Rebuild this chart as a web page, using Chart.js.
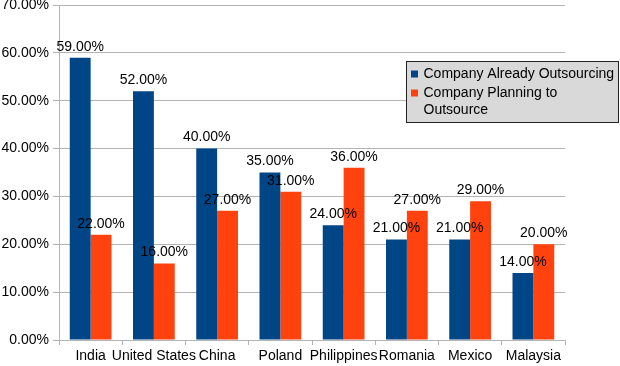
<!DOCTYPE html>
<html>
<head>
<meta charset="utf-8">
<script src="https://cdn.jsdelivr.net/npm/chart.js@4/dist/chart.umd.min.js"></script>
<style>
html,body{margin:0;padding:0;background:#fff;}
#wrap{width:620px;height:366px;}
</style>
</head>
<body>
<div id="wrap"><canvas id="c" width="620" height="366"></canvas></div>
<script>
const categories = ["India","United States","China","Poland","Philippines","Romania","Mexico","Malaysia"];
const alreadyOutsourcing = [59,52,40,35,24,21,21,14];
const planningToOutsource = [22,16,27,31,36,27,29,20];
const yTicks = [0,10,20,30,40,50,60,70];
const seriesNames = ["Company Already Outsourcing","Company Planning to Outsource"];
const legendLines = [["Company Already Outsourcing"],["Company Planning to","Outsource"]];

const FONT = "'Liberation Sans', Arial, sans-serif";
const colors = ["#004586","#ff420e"];

const valueLabels = {
  id:'valueLabels',
  afterDatasetsDraw(chart){
    const ctx = chart.ctx;
    ctx.save();
    ctx.font = "14px " + FONT;
    ctx.fillStyle = "#000";
    ctx.textAlign = "center";
    ctx.textBaseline = "bottom";
    chart.data.datasets.forEach((ds,i)=>{
      chart.getDatasetMeta(i).data.forEach((bar,j)=>{
        ctx.fillText(ds.data[j].toFixed(2)+"%", bar.x, bar.y-4);
      });
    });
    ctx.restore();
  }
};

const boxLegend = {
  id:'boxLegend',
  afterDraw(chart){
    const ctx = chart.ctx;
    const x=406.5, y=61.5, w=212, h=61;
    ctx.save();
    ctx.fillStyle="#d9d9d9";
    ctx.fillRect(x,y,w,h);
    ctx.strokeStyle="#222";
    ctx.lineWidth=1;
    ctx.strokeRect(x,y,w,h);
    ctx.font="14px "+FONT;
    ctx.textAlign="left";
    ctx.textBaseline="middle";
    let ly = y+13;
    legendLines.forEach((lines,i)=>{
      ctx.fillStyle=colors[i];
      ctx.fillRect(x+4.5, ly-4, 7, 7);
      ctx.fillStyle="#000";
      lines.forEach((t,k)=>{
        ctx.fillText(t, x+17, ly + k*17);
      });
      ly += 19;
    });
    ctx.restore();
  }
};

new Chart(document.getElementById('c'),{
  type:'bar',
  data:{
    labels:categories,
    datasets:[
      {label:seriesNames[0],data:alreadyOutsourcing,backgroundColor:colors[0],borderWidth:0,categoryPercentage:0.66,barPercentage:1},
      {label:seriesNames[1],data:planningToOutsource,backgroundColor:colors[1],borderWidth:0,categoryPercentage:0.66,barPercentage:1}
    ]
  },
  options:{
    responsive:false,
    animation:false,
    layout:{padding:{top:5,right:55,left:0,bottom:0}},
    plugins:{legend:{display:false},tooltip:{enabled:false}},
    scales:{
      x:{
        grid:{display:true,drawOnChartArea:false,drawTicks:true,tickLength:5,color:'#b3b3b3',offset:true},
        border:{display:true,color:'#b3b3b3'},
        ticks:{color:'#000',font:{family:FONT,size:14},padding:3,maxRotation:0,autoSkip:false},
        afterFit(s){s.height=26; s.paddingLeft=0; s.paddingRight=0;}
      },
      y:{
        min:0,max:70,
        afterBuildTicks(s){s.ticks = yTicks.map(v=>({value:v}));},
        grid:{color:'#b3b3b3',tickLength:6},
        border:{display:true,color:'#b3b3b3'},
        ticks:{color:'#000',font:{family:FONT,size:14},padding:4,callback:v=>v.toFixed(2)+"%"},
        afterFit(s){s.width=59; s.paddingTop=0; s.paddingBottom=0;}
      }
    }
  },
  plugins:[valueLabels,boxLegend]
});
</script>
</body>
</html>
